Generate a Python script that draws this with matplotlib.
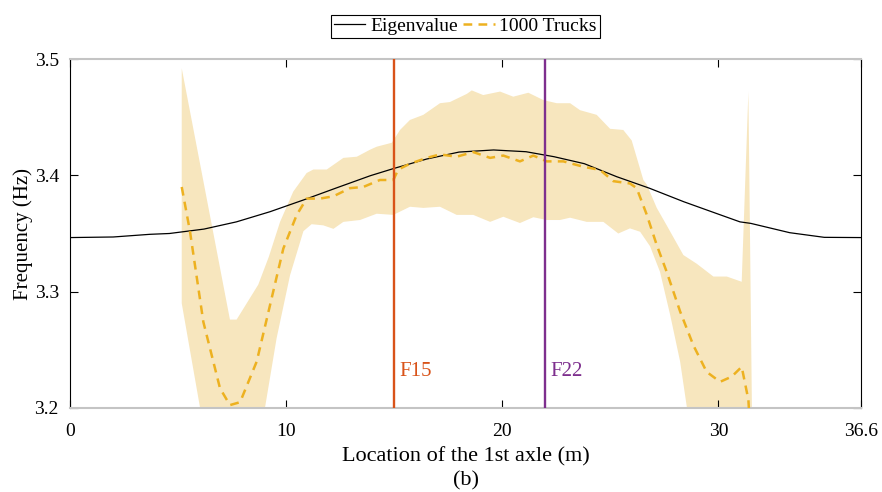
import numpy as np
import matplotlib
matplotlib.use('Agg')
import matplotlib.pyplot as plt

plt.rcParams['font.family'] = ['Liberation Serif', 'DejaVu Serif']

# eigenvalue curve
eig_x = [0, 2, 3.7, 4.6, 6.2, 7.7, 9.25, 10.8, 12.3, 13.9, 15, 16.5, 18, 19.6,
         21.1, 22.4, 23.8, 25.3, 26.8, 28.4, 29.9, 31.0, 31.5, 33.3, 34.9, 36.6]
eig_y = [3.3465, 3.347, 3.3493, 3.350, 3.3538, 3.360, 3.3687, 3.3788, 3.389,
         3.3997, 3.406, 3.414, 3.420, 3.4218, 3.4203, 3.416, 3.410, 3.3988,
         3.389, 3.3773, 3.3673, 3.360, 3.3587, 3.3507, 3.3467, 3.3465]

# mean of 1000 trucks
mean_x = [5.17, 5.55, 6.17, 6.94, 7.40, 7.87, 8.64, 9.25, 9.87, 10.49, 10.95,
          11.57, 12.19, 12.96, 13.57, 14.34, 14.96, 15.19, 15.73, 16.51, 17.12,
          17.89, 18.66, 19.44, 20.05, 20.82, 21.44, 22.06, 22.83, 23.75, 24.53,
          25.14, 25.91, 26.22, 26.69, 27.15, 27.61, 28.23, 28.84, 29.46, 30.08,
          30.62, 31.08, 31.39, 31.5]
mean_y = [3.390, 3.352, 3.274, 3.217, 3.2025, 3.205, 3.240, 3.288, 3.337, 3.366,
          3.380, 3.380, 3.382, 3.389, 3.390, 3.396, 3.396, 3.405, 3.410, 3.415,
          3.418, 3.416, 3.420, 3.415, 3.417, 3.412, 3.417, 3.412, 3.412, 3.4074,
          3.4046, 3.395, 3.393, 3.389, 3.366, 3.340, 3.317, 3.283, 3.254, 3.231,
          3.2225, 3.227, 3.2354, 3.207, 3.17]

# band upper / lower edges
up_x = [5.17, 7.40, 7.71, 8.71, 9.2, 9.72, 10.33, 10.95, 11.26, 11.88, 12.65,
        13.27, 13.88, 14.19, 14.89, 15.27, 15.73, 16.35, 17.12, 17.58, 18.36,
        18.59, 19.12, 19.90, 20.51, 21.21, 21.90, 22.52, 23.14, 23.60, 24.37,
        24.99, 25.6, 25.99, 26.53, 26.69, 27.15, 27.61, 28.38, 29.00, 29.77,
        30.39, 31.08, 31.39, 31.6]
up_y = [3.492, 3.276, 3.276, 3.306, 3.33, 3.360, 3.386, 3.402, 3.405, 3.405,
        3.415, 3.416, 3.422, 3.4246, 3.428, 3.439, 3.4476, 3.452, 3.462, 3.463,
        3.470, 3.473, 3.469, 3.472, 3.4676, 3.471, 3.4647, 3.462, 3.462, 3.456,
        3.452, 3.440, 3.439, 3.430, 3.396, 3.392, 3.372, 3.357, 3.3315, 3.324,
        3.313, 3.313, 3.3085, 3.472, 3.12]
low_x = [5.17, 6.02, 7.0, 7.6, 8.2, 9.02, 9.56, 10.18, 10.80, 11.18, 11.72,
         12.19, 12.65, 13.42, 14.19, 14.96, 15.73, 16.35, 17.12, 17.89, 18.66,
         19.44, 20.05, 20.82, 21.44, 22.06, 22.67, 23.14, 23.91, 24.68, 25.37,
         25.91, 26.38, 26.84, 27.30, 27.77, 28.23, 28.54, 29.5, 30.5, 31.2, 31.6]
low_y = [3.290, 3.2, 3.10, 3.06, 3.10, 3.2, 3.260, 3.314, 3.352, 3.358, 3.357,
         3.354, 3.360, 3.3616, 3.367, 3.366, 3.373, 3.372, 3.373, 3.366, 3.366,
         3.360, 3.3644, 3.359, 3.364, 3.3616, 3.3616, 3.3636, 3.360, 3.360,
         3.350, 3.3544, 3.3515, 3.339, 3.317, 3.280, 3.240, 3.201, 3.12, 3.08,
         3.05, 3.0]

f_locs = [15, 22]
f_labels = ['F15', 'F22']
f_colors = ['#D95319', '#7E2F8E']

xticks = [0, 10, 20, 30, 36.6]
xticklabels = ['0', '10', '20', '30', '36.6']
yticks = [3.2, 3.3, 3.4, 3.5]

fig = plt.figure(figsize=(8.82, 4.92), dpi=100)
ax = fig.add_axes([70/882, 1-408/492, (861-70)/882, (408-59)/492])

poly_x = np.concatenate([up_x, low_x[::-1]])
poly_y = np.concatenate([up_y, low_y[::-1]])
ax.fill(poly_x, poly_y, color='#F7E6BE', lw=0, zorder=1)

ax.plot(eig_x, eig_y, color='black', lw=0.9, label='Eigenvalue', zorder=3)
ax.plot(mean_x, mean_y, color='#EDB120', lw=1.8, ls=(0, (3.5, 2.5)),
        label='1000 Trucks', zorder=4)

for xl, lab, c in zip(f_locs, f_labels, f_colors):
    ax.axvline(xl, color=c, lw=1.7, zorder=5)
    ax.text(xl + 0.22, 3.231, lab, color=c, fontsize=15, va='center', ha='left')

ax.set_xlim(0, 36.6)
ax.set_ylim(3.2, 3.5)
ax.set_xticks(xticks)
ax.set_xticklabels(xticklabels)
ax.set_yticks(yticks)
ax.tick_params(direction='in', length=6, width=0.8, top=True, right=True,
               labelsize=14, colors='black')
ax.tick_params(axis='x', pad=11)
ax.tick_params(axis='y', pad=8)
for s in ['top', 'bottom']:
    ax.spines[s].set_color('#C4C4C4')
    ax.spines[s].set_linewidth(1.5)
for s in ['left', 'right']:
    ax.spines[s].set_color('black')
    ax.spines[s].set_linewidth(0.8)

ax.set_xlabel('Location of the 1st axle (m)', fontsize=16, labelpad=5)
ax.set_ylabel('Frequency (Hz)', fontsize=15, labelpad=1)
fig.text((70 + 861) / 2 / 882, 1 - 481/492, '(b)', fontsize=16,
         ha='center', va='center')

leg = ax.legend(loc='lower center', bbox_to_anchor=(0.5, 1.06), ncol=2,
                fontsize=14, frameon=True, fancybox=False, framealpha=1,
                edgecolor='black', handlelength=1.6, handletextpad=0.25,
                columnspacing=0.3, borderpad=0.15, borderaxespad=0)
leg.get_frame().set_linewidth(0.8)

fig.savefig('out.png', dpi=100)
